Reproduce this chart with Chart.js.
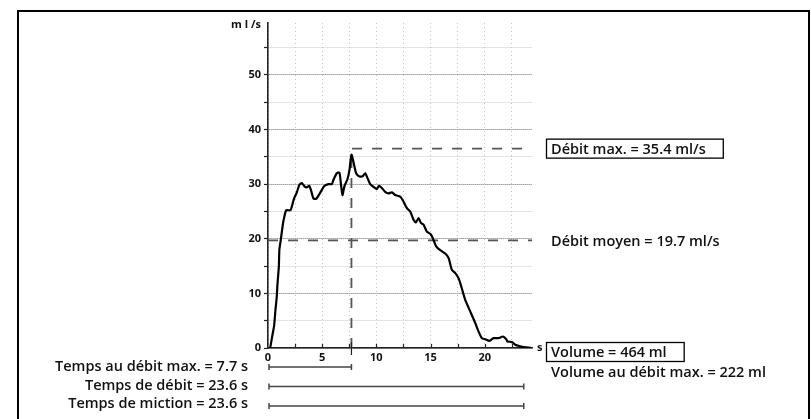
<!DOCTYPE html>
<html>
<head>
<meta charset="utf-8">
<script src="https://cdn.jsdelivr.net/npm/chart.js@4.4.1/dist/chart.umd.min.js"></script>
<style>
  html, body { margin: 0; padding: 0; background: #ffffff; }
  #wrap { width: 811px; height: 419px; position: relative; }
</style>
</head>
<body>
<div id="wrap"><canvas id="uroChart" width="811" height="419"></canvas></div>
<script>
// Uroflowmetry curve: time (s) and flow rate (ml/s)
const timeS = [0.2, 0.44, 0.56, 0.69, 0.81, 0.87, 1.0, 1.05, 1.18, 1.30, 1.42, 1.67, 1.98, 2.1,
  2.41, 2.66, 2.90, 3.12, 3.36, 3.58, 3.80, 3.95, 4.19, 4.44, 4.81, 5.18, 5.58, 5.89, 6.04,
  6.35, 6.59, 6.72, 6.87, 7.05, 7.33, 7.52, 7.7, 7.98, 8.13, 8.44, 8.75, 8.97, 9.18, 9.43,
  9.80, 10.05, 10.23, 10.5, 10.81, 11.12, 11.43, 11.74, 12.20, 12.45, 12.82, 13.12, 13.43,
  13.65, 13.89, 14.11, 14.35, 14.66, 14.97, 15.21, 15.52, 15.89, 16.35, 16.66, 16.97, 17.28,
  17.58, 17.83, 18.2, 18.66, 19.12, 19.43, 19.74, 20.05, 20.44, 20.81, 21.27, 21.68, 21.99,
  22.1, 22.51, 22.82, 23.28, 23.6, 23.9, 24.3];
const flowMlS = [0, 2.7, 4.0, 7.0, 9.4, 11.6, 14.9, 18.0, 19.8, 21.6, 23.2, 25.2, 25.2, 25.3,
  27.4, 28.5, 29.9, 30.2, 29.6, 29.4, 29.7, 29.0, 27.4, 27.3, 28.4, 29.6, 30.0, 30.0, 30.8,
  32.0, 32.1, 30.2, 28.0, 29.6, 30.9, 32.6, 35.4, 33.2, 32.0, 31.4, 31.5, 32.0, 31.1, 30.0,
  29.4, 29.1, 29.7, 29.3, 28.6, 28.3, 28.5, 28.0, 27.7, 27.0, 25.6, 25.0, 23.5,
  23.0, 23.8, 22.9, 22.6, 21.3, 20.9, 20.1, 18.6, 17.9, 17.3, 16.5, 14.3, 13.7,
  12.8, 11.3, 8.8, 6.7, 4.6, 3.0, 1.8, 1.6, 1.3, 1.8, 1.8, 2.1, 1.6,
  1.2, 1.1, 0.6, 0.3, 0.15, 0.1, 0];

// Summary results
const maxFlow = 35.4;           // ml/s
const maxFlowGuideLevel = 36.5; // level of the dashed max-flow guide
const timeToMaxFlow = 7.7;      // s
const meanFlow = 19.7;          // ml/s
const flowTime = 23.6;          // s
const voidingTime = 23.6;       // s
const voidedVolume = 464;       // ml
const volumeAtMaxFlow = 222;    // ml

// Axis ranges and ticks
const xMin = 0, xMax = 24.36, xStep = 2.5;
const yMin = 0, yMax = 59.5, yStep = 5;
const xTickLabels = [0, 5, 10, 15, 20];
const yTickLabels = [0, 10, 20, 30, 40, 50];
const yAxisTitle = 'm l /s';
const xAxisTitle = 's';

const TEXT_FONT = '600 14.5px "Open Sans"';
const TICK_FONT = 'bold 11px "Open Sans"';
const INK = '#111111';

const curvePoints = timeS.map((t, i) => ({ x: t, y: flowMlS[i] }));

const annotations = {
  id: 'annotations',
  afterDraw(chart) {
    const { ctx, scales: { x, y }, chartArea } = chart;
    ctx.save();

    // outer frame
    ctx.strokeStyle = '#000';
    ctx.lineWidth = 2;
    ctx.strokeRect(18, 11, 791, 440);

    // x tick marks pointing up into the plot
    ctx.strokeStyle = '#222';
    ctx.lineWidth = 1.2;
    for (let v = xStep; v < xMax; v += xStep) {
      const px = Math.round(x.getPixelForValue(v)) + 0.5;
      ctx.beginPath();
      ctx.moveTo(px, chartArea.bottom);
      ctx.lineTo(px, chartArea.bottom - 4);
      ctx.stroke();
    }
    // marker at time to max flow crossing the x axis
    const pxMax = x.getPixelForValue(timeToMaxFlow);
    ctx.beginPath();
    ctx.moveTo(pxMax, chartArea.bottom - 6);
    ctx.lineTo(pxMax, chartArea.bottom + 7);
    ctx.stroke();

    // axis titles
    ctx.fillStyle = INK;
    ctx.font = TICK_FONT;
    ctx.textAlign = 'right';
    ctx.textBaseline = 'middle';
    ctx.fillText(yAxisTitle, chartArea.left - 7, chartArea.top + 2);
    ctx.textAlign = 'left';
    ctx.fillText(xAxisTitle, chartArea.right + 5, chartArea.bottom);

    // right-hand results
    const tx = chartArea.right + 19;
    ctx.font = TEXT_FONT;
    ctx.textAlign = 'left';
    ctx.textBaseline = 'middle';
    ctx.lineWidth = 1.3;
    ctx.strokeStyle = '#000';

    const boxed = (text, cy) => {
      ctx.fillText(text, tx, cy + 1);
      const w = ctx.measureText(text).width;
      ctx.strokeRect(tx - 4.5, cy - 9.5, w + 22, 19);
    };

    boxed(`Débit max. = ${maxFlow.toFixed(1)} ml/s`, y.getPixelForValue(maxFlowGuideLevel));
    ctx.fillText(`Débit moyen = ${meanFlow.toFixed(1)} ml/s`, tx, y.getPixelForValue(meanFlow) + 1);

    const yVol = chartArea.bottom + 4;
    boxed(`Volume = ${voidedVolume} ml`, yVol);
    ctx.fillText(`Volume au débit max. = ${volumeAtMaxFlow} ml`, tx, yVol + 21);

    // left-hand time results with their span bars
    const rows = [
      { text: `Temps au débit max. = ${timeToMaxFlow.toFixed(1)} s`, end: timeToMaxFlow, yText: 367, yBar: 367 },
      { text: `Temps de débit = ${flowTime.toFixed(1)} s`, end: flowTime, yText: 386, yBar: 386.5 },
      { text: `Temps de miction = ${voidingTime.toFixed(1)} s`, end: voidingTime, yText: 404, yBar: 406 }
    ];
    ctx.textAlign = 'right';
    ctx.strokeStyle = '#444';
    ctx.lineWidth = 1.5;
    rows.forEach(r => {
      ctx.fillText(r.text, 248, r.yText);
      const x0 = x.getPixelForValue(0) + 1;
      const x1 = x.getPixelForValue(r.end);
      ctx.beginPath();
      ctx.moveTo(x0, r.yBar);
      ctx.lineTo(x1, r.yBar);
      ctx.moveTo(x0, r.yBar - 3);
      ctx.lineTo(x0, r.yBar + 3);
      ctx.moveTo(x1, r.yBar - 3);
      ctx.lineTo(x1, r.yBar + 3);
      ctx.stroke();
    });

    ctx.restore();
  }
};

new Chart(document.getElementById('uroChart'), {
  type: 'line',
  data: {
    datasets: [
      {
        label: 'Débit',
        data: curvePoints,
        borderColor: '#000',
        borderWidth: 2.2,
        pointRadius: 0,
        tension: 0.2,
        fill: false
      },
      {
        label: 'Débit moyen',
        data: [{ x: 0, y: meanFlow }, { x: xMax, y: meanFlow }],
        borderColor: '#555',
        borderWidth: 1.8,
        borderDash: [10, 10],
        pointRadius: 0,
        fill: false
      },
      {
        label: 'Débit max.',
        data: [{ x: timeToMaxFlow, y: 0 }, { x: timeToMaxFlow, y: maxFlowGuideLevel }, { x: xMax, y: maxFlowGuideLevel }],
        borderColor: '#555',
        borderWidth: 1.8,
        borderDash: [10, 10],
        pointRadius: 0,
        tension: 0,
        fill: false
      }
    ]
  },
  options: {
    responsive: false,
    devicePixelRatio: 1,
    animation: false,
    layout: { padding: { left: 0, top: 23, right: 279, bottom: 0 } },
    plugins: { legend: { display: false }, tooltip: { enabled: false } },
    scales: {
      x: {
        type: 'linear',
        min: xMin,
        max: xMax,
        afterFit(s) { s.height = 71; },
        grid: {
          color: '#c4c4c4',
          lineWidth: 1,
          drawTicks: false
        },
        border: { display: true, color: '#222', width: 1.6, dash: [1, 3] },
        ticks: {
          stepSize: xStep,
          includeBounds: false,
          autoSkip: false,
          maxRotation: 0,
          padding: 3,
          color: INK,
          font: { family: 'Open Sans', size: 11, weight: 'bold' },
          callback: v => (xTickLabels.includes(v) ? String(v) : '')
        }
      },
      y: {
        type: 'linear',
        min: yMin,
        max: yMax,
        afterFit(s) { s.width = 268; },
        grid: {
          color: ctx => (ctx.tick && ctx.tick.value % 10 === 0 ? '#6a6a6a' : '#c8c8c8'),
          lineWidth: 1,
          drawTicks: true,
          tickLength: 4,
          tickColor: '#222',
          tickWidth: 1.2
        },
        border: { display: true, color: '#222', width: 1.6, dash: [1, 1] },
        ticks: {
          stepSize: yStep,
          includeBounds: false,
          autoSkip: false,
          padding: 3,
          color: INK,
          font: { family: 'Open Sans', size: 11, weight: 'bold' },
          callback: v => (yTickLabels.includes(v) ? String(v) : '')
        }
      }
    }
  },
  plugins: [annotations]
});
</script>
</body>
</html>
